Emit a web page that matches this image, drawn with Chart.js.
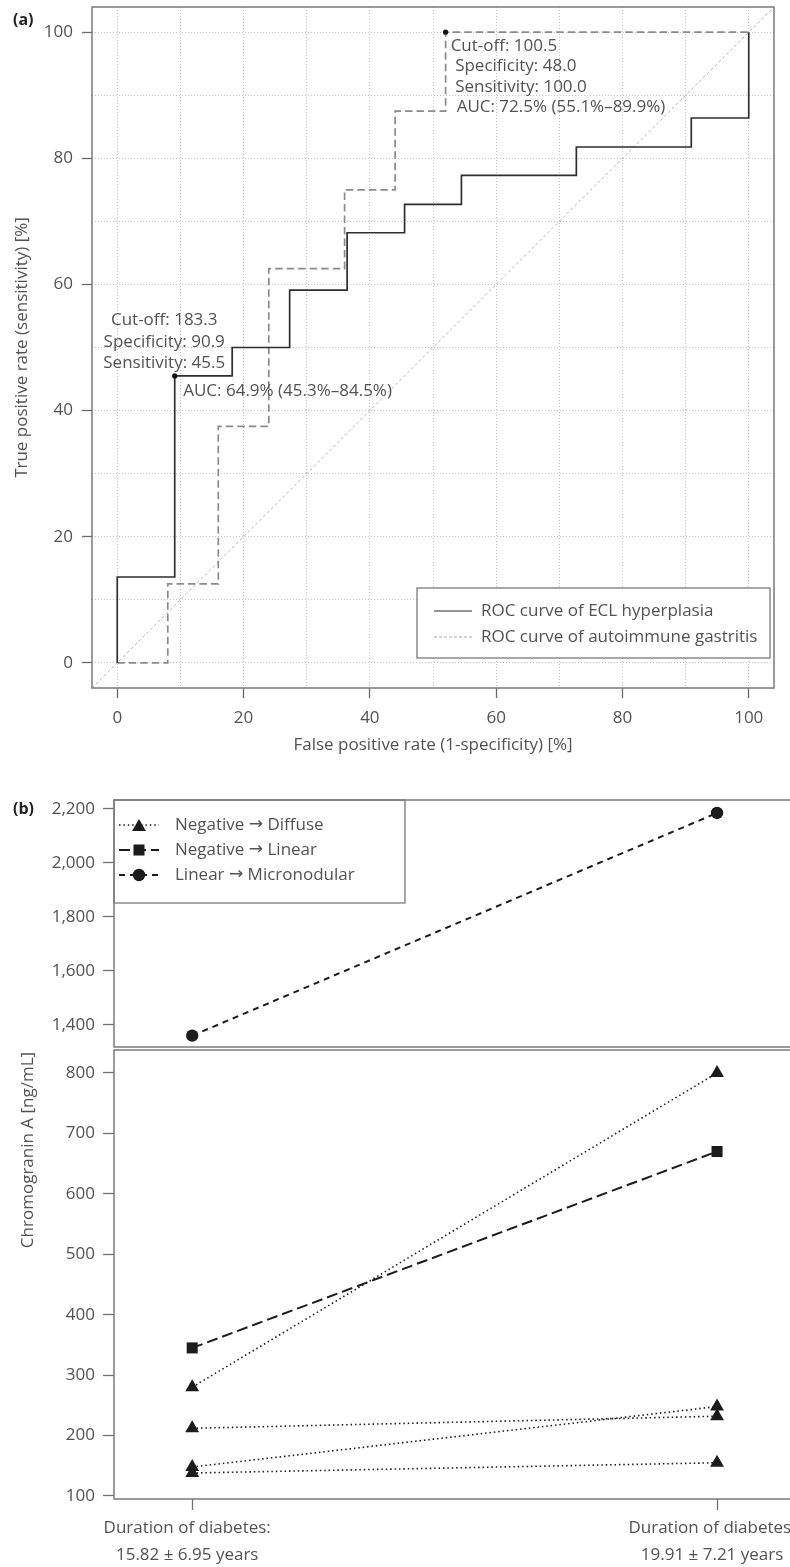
<!DOCTYPE html>
<html>
<head>
<meta charset="utf-8">
<script src="https://cdn.jsdelivr.net/npm/chart.js@4.4.1/dist/chart.umd.min.js"></script>
<style>
  html, body { margin: 0; padding: 0; background: #fff; width: 790px; height: 1567px; overflow: hidden; }
  #wrap { position: relative; width: 790px; height: 1567px; font-family: 'Open Sans', 'Noto Sans', sans-serif; color: #525252; }
  canvas { position: absolute; left: 0; }
  .lbl { position: absolute; font-size: 17px; line-height: 20px; white-space: nowrap; }
</style>
</head>
<body>
<div id="wrap">
  <canvas id="rocChart" width="790" height="770" style="top:0px;width:790px;height:770px;"></canvas>
  <canvas id="upperChart" width="790" height="262" style="top:790px;width:790px;height:262px;"></canvas>
  <canvas id="lowerChart" width="790" height="523" style="top:1044px;width:790px;height:523px;"></canvas>
  <div class="lbl" id="panelA" style="left:13px;top:9px;font-weight:bold;color:#222;font-size:16px;">(a)</div>
  <div class="lbl" id="panelB" style="left:13px;top:798px;font-weight:bold;color:#222;font-size:16px;">(b)</div>
  <div class="lbl" id="yTitleB" style="left:27px;top:1150px;transform:translate(-50%,-50%) rotate(-90deg);">Chromogranin A [ng/mL]</div>
</div>
<script>
// ---------------- DATA: panel (a) ROC curves ----------------
const ROC_LABELS = ['ROC curve of ECL hyperplasia', 'ROC curve of autoimmune gastritis'];
const ECL_FPR = [0, 0, 9.1, 9.1, 18.2, 18.2, 27.3, 27.3, 36.4, 36.4, 45.5, 45.5, 54.5, 54.5, 72.7, 72.7, 90.9, 90.9, 100, 100];
const ECL_TPR = [0, 13.6, 13.6, 45.5, 45.5, 50, 50, 59.1, 59.1, 68.2, 68.2, 72.7, 72.7, 77.3, 77.3, 81.8, 81.8, 86.4, 86.4, 100];
const AIG_FPR = [0, 8, 8, 16, 16, 24, 24, 36, 36, 44, 44, 52, 52, 100];
const AIG_TPR = [0, 0, 12.5, 12.5, 37.5, 37.5, 62.5, 62.5, 75, 75, 87.5, 87.5, 100, 100];
const CUTOFF_FPR = [9.1, 52];
const CUTOFF_TPR = [45.5, 100];
const ROC_AXIS_RANGE = [-4, 104];
const ROC_GRID = [0, 10, 20, 30, 40, 50, 60, 70, 80, 90, 100];
const ROC_TICK_LABELS = [0, 20, 40, 60, 80, 100];
const ECL_NOTE = ['Cut-off: 183.3', 'Specificity: 90.9', 'Sensitivity: 45.5'];
const ECL_AUC = 'AUC: 64.9% (45.3%\u201384.5%)';
const AIG_NOTE = ['Cut-off: 100.5', 'Specificity: 48.0', 'Sensitivity: 100.0', 'AUC: 72.5% (55.1%\u201389.9%)'];
const ROC_X_TITLE = 'False positive rate (1-specificity) [%]';
const ROC_Y_TITLE = 'True positive rate (sensitivity) [%]';

// ---------------- DATA: panel (b) chromogranin A ----------------
const TIMEPOINTS = [1, 2];
const TIME_LABELS = [
  ['Duration of diabetes:', '15.82 \u00b1 6.95 years'],
  ['Duration of diabetes:', '19.91 \u00b1 7.21 years']
];
const B_X_RANGE = [0.851, 2.139];
const DIFFUSE_1 = [280, 800];
const DIFFUSE_2 = [212, 232];
const DIFFUSE_3 = [148, 248];
const DIFFUSE_4 = [138, 155];
const LINEAR = [345, 670];
const MICRONODULAR = [1360, 2185];
const UPPER_RANGE = [1318, 2233];
const LOWER_RANGE = [95, 838];
const UPPER_TICKS = [1400, 1600, 1800, 2000, 2200];
const LOWER_TICKS = [100, 200, 300, 400, 500, 600, 700, 800];
const GROUP_LABELS = ['Negative \u2192 Diffuse', 'Negative \u2192 Linear', 'Linear \u2192 Micronodular'];

// ---------------- styles ----------------
const FONT = "'Open Sans', 'Noto Sans', sans-serif";
const ARROW_FONT = "'DejaVu Sans', sans-serif";
const FS = 17;
const TXT = '#525252';
const FRAME = '#7a7a7a';
const INK = '#1c1c1c';
const SERIES_STYLE = {
  diffuse: { borderDash: [1.5, 2.9], borderWidth: 1.6, pointStyle: 'triangle', pointRadius: 8 },
  linear:  { borderDash: [11, 5], borderWidth: 2, pointStyle: 'rect', pointRadius: 7.8 },
  micro:   { borderDash: [6, 5], borderWidth: 2, pointStyle: 'circle', pointRadius: 6.2 }
};
const GROUP_KEYS = ['diffuse', 'linear', 'micro'];

Chart.defaults.font.family = FONT;
Chart.defaults.font.size = FS;
Chart.defaults.color = TXT;

const pts = (xs, ys) => xs.map((x, i) => ({ x: x, y: ys[i] }));
const noScalePad = s => { s.paddingTop = 0; s.paddingBottom = 0; s.paddingLeft = 0; s.paddingRight = 0; };

// ---------------- plugins ----------------
const framePlugin = {
  id: 'frame',
  afterDraw(chart, args, opts) {
    const { ctx, chartArea: a } = chart;
    ctx.save();
    ctx.strokeStyle = opts.color || FRAME;
    ctx.lineWidth = opts.width || 1.5;
    ctx.setLineDash([]);
    ctx.beginPath();
    if (opts.open) {
      ctx.moveTo(chart.width + 2, a.top);
      ctx.lineTo(a.left, a.top);
      ctx.lineTo(a.left, a.bottom);
      ctx.lineTo(chart.width + 2, a.bottom);
    } else {
      ctx.rect(a.left, a.top, a.right - a.left, a.bottom - a.top);
    }
    ctx.stroke();
    ctx.restore();
  }
};

function drawMarker(ctx, style, r, x, y) {
  ctx.beginPath();
  if (style === 'triangle') {
    ctx.moveTo(x, y - r);
    ctx.lineTo(x + r * Math.sin(2 * Math.PI / 3), y - r * Math.cos(2 * Math.PI / 3));
    ctx.lineTo(x + r * Math.sin(4 * Math.PI / 3), y - r * Math.cos(4 * Math.PI / 3));
    ctx.closePath();
  } else if (style === 'rect') {
    const s = r * Math.SQRT1_2;
    ctx.rect(x - s, y - s, 2 * s, 2 * s);
  } else {
    ctx.arc(x, y, r, 0, Math.PI * 2);
  }
  ctx.fill();
}

const rocNotesPlugin = {
  id: 'rocNotes',
  afterDatasetsDraw(chart) {
    const { ctx, scales: { x, y } } = chart;
    ctx.save();
    ctx.font = FS + 'px ' + FONT;
    ctx.fillStyle = TXT;
    ctx.textBaseline = 'middle';
    const ex = x.getPixelForValue(CUTOFF_FPR[0]);
    const ey = y.getPixelForValue(CUTOFF_TPR[0]);
    ctx.textAlign = 'center';
    ECL_NOTE.forEach((t, i) => ctx.fillText(t, ex - 10.5, ey - 55.5 + i * 21.5));
    ctx.textAlign = 'left';
    ctx.fillText(ECL_AUC, ex + 8.5, ey + 15.5);
    const ax = x.getPixelForValue(CUTOFF_FPR[1]);
    const ay = y.getPixelForValue(CUTOFF_TPR[1]);
    const dx = [5, 9.5, 9.5, 11];
    AIG_NOTE.forEach((t, i) => ctx.fillText(t, ax + dx[i], ay + 14 + i * 20.3));
    ctx.restore();
  }
};

const rocLegendPlugin = {
  id: 'rocLegend',
  afterDatasetsDraw(chart) {
    const { ctx, chartArea: a } = chart;
    const w = 353, h = 70;
    const left = a.right - 4 - w, top = a.bottom - 30 - h;
    ctx.save();
    ctx.fillStyle = '#fff';
    ctx.fillRect(left, top, w, h);
    ctx.strokeStyle = FRAME;
    ctx.lineWidth = 1.3;
    ctx.strokeRect(left, top, w, h);
    ctx.font = FS + 'px ' + FONT;
    ctx.textBaseline = 'middle';
    ctx.textAlign = 'left';
    ROC_LABELS.forEach((lab, i) => {
      const ds = chart.data.datasets[i];
      const yy = top + 23 + i * 26;
      ctx.strokeStyle = i === 0 ? ds.borderColor : '#a8a8a8';
      ctx.lineWidth = 1;
      ctx.setLineDash(i === 0 ? [] : [3, 2]);
      ctx.beginPath();
      ctx.moveTo(left + 17, yy);
      ctx.lineTo(left + 55, yy);
      ctx.stroke();
      ctx.setLineDash([]);
      ctx.fillStyle = TXT;
      ctx.fillText(lab, left + 64, yy);
    });
    ctx.restore();
  }
};

function drawArrowLabel(ctx, label, x, y) {
  const parts = label.split(' \u2192 ');
  ctx.font = FS + 'px ' + FONT;
  const sp = ctx.measureText(' ').width;
  ctx.fillText(parts[0], x, y);
  let cx = x + ctx.measureText(parts[0]).width + sp;
  ctx.font = FS + 'px ' + ARROW_FONT;
  ctx.fillText('\u2192', cx, y);
  cx += ctx.measureText('\u2192').width;
  ctx.font = FS + 'px ' + FONT;
  ctx.fillText(parts[1], cx + sp, y);
}

const groupLegendPlugin = {
  id: 'groupLegend',
  afterDatasetsDraw(chart) {
    const { ctx, chartArea: a } = chart;
    const w = 291, h = 103;
    const left = a.left, top = a.top;
    ctx.save();
    ctx.fillStyle = '#fff';
    ctx.fillRect(left, top, w, h);
    ctx.strokeStyle = FRAME;
    ctx.lineWidth = 1.3;
    ctx.strokeRect(left, top, w, h);
    ctx.textBaseline = 'middle';
    ctx.textAlign = 'left';
    GROUP_LABELS.forEach((lab, i) => {
      const st = SERIES_STYLE[GROUP_KEYS[i]];
      const yy = top + 25 + i * 25;
      ctx.strokeStyle = INK;
      ctx.lineWidth = st.borderWidth;
      ctx.setLineDash(st.borderDash);
      ctx.beginPath();
      ctx.moveTo(left + 5, yy);
      ctx.lineTo(left + 45, yy);
      ctx.stroke();
      ctx.setLineDash([]);
      ctx.fillStyle = INK;
      drawMarker(ctx, st.pointStyle, st.pointRadius, left + 25, yy + (st.pointStyle === 'triangle' ? 2 : 0));
      ctx.fillStyle = TXT;
      drawArrowLabel(ctx, lab, left + 61, yy);
    });
    ctx.restore();
  }
};

// ---------------- panel (a) ----------------
new Chart(document.getElementById('rocChart'), {
  type: 'scatter',
  data: {
    datasets: [
      { label: ROC_LABELS[0], data: pts(ECL_FPR, ECL_TPR), showLine: true, borderColor: '#2e2e2e', borderWidth: 1.7, pointRadius: 0, order: 1 },
      { label: ROC_LABELS[1], data: pts(AIG_FPR, AIG_TPR), showLine: true, borderColor: '#8a8a8a', borderWidth: 1.7, borderDash: [7.5, 4], pointRadius: 0, order: 2 },
      { label: 'Chance line', data: pts(ROC_AXIS_RANGE, ROC_AXIS_RANGE), showLine: true, borderColor: '#b5b5b5', borderWidth: 1, borderDash: [3, 2.5], pointRadius: 0, order: 3 },
      { label: 'Cut-off', data: pts(CUTOFF_FPR, CUTOFF_TPR), showLine: false, pointRadius: 2.6, pointBackgroundColor: '#111', pointBorderWidth: 0, order: 0 }
    ]
  },
  options: {
    responsive: false,
    animation: false,
    events: [],
    layout: { padding: { left: 0, right: 16, top: 7, bottom: 0 }, autoPadding: false },
    plugins: { legend: { display: false }, tooltip: { enabled: false }, frame: { color: FRAME, width: 1.5 } },
    scales: {
      x: {
        type: 'linear', min: ROC_AXIS_RANGE[0], max: ROC_AXIS_RANGE[1],
        afterBuildTicks: s => { s.ticks = ROC_GRID.map(v => ({ value: v })); },
        afterFit: s => { s.height = 82; noScalePad(s); },
        ticks: { autoSkip: false, maxRotation: 0, padding: 9.8, color: TXT, callback: v => ROC_TICK_LABELS.includes(v) ? String(v) : '' },
        grid: { color: '#c2c2c2', lineWidth: 1, tickLength: 10, tickWidth: 1.3, tickBorderDash: [],
                tickColor: c => (c.tick && ROC_TICK_LABELS.includes(c.tick.value)) ? '#6a6a6a' : 'rgba(0,0,0,0)' },
        border: { display: false, dash: [1, 2] },
        title: { display: true, text: ROC_X_TITLE, color: TXT, font: { size: FS }, padding: { top: 0, bottom: 14.8 } }
      },
      y: {
        type: 'linear', min: ROC_AXIS_RANGE[0], max: ROC_AXIS_RANGE[1],
        afterBuildTicks: s => { s.ticks = ROC_GRID.map(v => ({ value: v })); },
        afterFit: s => { s.width = 92; noScalePad(s); },
        ticks: { autoSkip: false, padding: 9, color: TXT, callback: v => ROC_TICK_LABELS.includes(v) ? String(v) : '' },
        grid: { color: '#c2c2c2', lineWidth: 1, tickLength: 10, tickWidth: 1.3, tickBorderDash: [],
                tickColor: c => (c.tick && ROC_TICK_LABELS.includes(c.tick.value)) ? '#6a6a6a' : 'rgba(0,0,0,0)' },
        border: { display: false, dash: [1, 2] },
        title: { display: true, text: ROC_Y_TITLE, color: TXT, font: { size: FS }, padding: { top: 11.8, bottom: 0 } }
      }
    }
  },
  plugins: [framePlugin, rocNotesPlugin, rocLegendPlugin]
});

// ---------------- panel (b) ----------------
const lineSet = (label, key, values) => Object.assign({
  label: label, data: pts(TIMEPOINTS, values), showLine: true,
  borderColor: INK, pointBackgroundColor: INK, pointBorderWidth: 0, pointHoverRadius: 0
}, SERIES_STYLE[key]);

const bScaleY = (range, ticks, fmt) => ({
  type: 'linear', min: range[0], max: range[1],
  afterBuildTicks: s => { s.ticks = ticks.map(v => ({ value: v })); },
  afterFit: s => { s.width = 114; noScalePad(s); },
  ticks: { autoSkip: false, padding: 8, color: TXT, callback: fmt },
  grid: { drawOnChartArea: false, drawTicks: true, tickLength: 11, tickWidth: 1.3, tickColor: '#707070' },
  border: { display: false }
});

new Chart(document.getElementById('upperChart'), {
  type: 'scatter',
  data: { datasets: [ lineSet(GROUP_LABELS[2], 'micro', MICRONODULAR) ] },
  options: {
    responsive: false, animation: false, events: [],
    layout: { padding: { left: 0, right: 0, top: 10, bottom: 5 }, autoPadding: false },
    plugins: { legend: { display: false }, tooltip: { enabled: false }, frame: { open: true, color: FRAME, width: 1.5 } },
    scales: {
      x: { type: 'linear', display: false, min: B_X_RANGE[0], max: B_X_RANGE[1] },
      y: bScaleY(UPPER_RANGE, UPPER_TICKS, v => Number(v).toLocaleString('en-US'))
    }
  },
  plugins: [framePlugin, groupLegendPlugin]
});

new Chart(document.getElementById('lowerChart'), {
  type: 'scatter',
  data: {
    datasets: [
      lineSet(GROUP_LABELS[0], 'diffuse', DIFFUSE_1),
      lineSet(GROUP_LABELS[0], 'diffuse', DIFFUSE_2),
      lineSet(GROUP_LABELS[0], 'diffuse', DIFFUSE_3),
      lineSet(GROUP_LABELS[0], 'diffuse', DIFFUSE_4),
      lineSet(GROUP_LABELS[1], 'linear', LINEAR)
    ]
  },
  options: {
    responsive: false, animation: false, events: [],
    layout: { padding: { left: 0, right: 0, top: 6, bottom: 0 }, autoPadding: false },
    plugins: { legend: { display: false }, tooltip: { enabled: false }, frame: { open: true, color: FRAME, width: 1.5 } },
    scales: {
      x: {
        type: 'linear', min: B_X_RANGE[0], max: B_X_RANGE[1],
        afterBuildTicks: s => { s.ticks = TIMEPOINTS.map(v => ({ value: v })); },
        afterFit: s => { s.height = 68; noScalePad(s); },
        ticks: { autoSkip: false, maxRotation: 0, minRotation: 0, padding: 4.5, labelOffset: -5, color: TXT,
                 font: { size: FS, lineHeight: 27 / FS },
                 callback: (v) => TIME_LABELS[TIMEPOINTS.indexOf(v)] },
        grid: { drawOnChartArea: false, drawTicks: true, tickLength: 11, tickWidth: 1.3, tickColor: '#707070' },
        border: { display: false }
      },
      y: bScaleY(LOWER_RANGE, LOWER_TICKS, v => String(v))
    }
  },
  plugins: [framePlugin]
});
</script>
</body>
</html>
